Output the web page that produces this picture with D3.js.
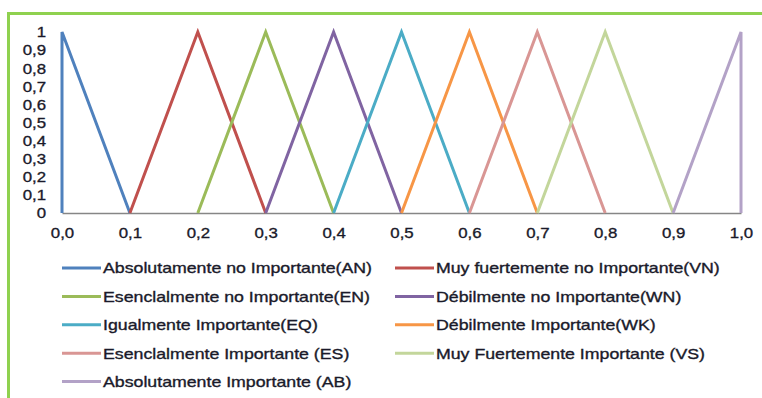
<!DOCTYPE html>
<html><head><meta charset="utf-8">
<script src="https://cdn.jsdelivr.net/npm/d3@7"></script>
<style>
html,body{margin:0;padding:0;background:#fff;}
svg{display:block;}
text{font-family:"Liberation Sans",Arial,sans-serif;fill:#1a1a2a;stroke:#1a1a2a;stroke-width:0.35px;}
</style></head>
<body><svg id="c" width="762" height="398"></svg>
<script>
const xTickValues = [0,0.1,0.2,0.3,0.4,0.5,0.6,0.7,0.8,0.9,1.0];
const xTickLabels = ["0,0","0,1","0,2","0,3","0,4","0,5","0,6","0,7","0,8","0,9","1,0"];
const yTickValues = [0,0.1,0.2,0.3,0.4,0.5,0.6,0.7,0.8,0.9,1];
const yTickLabels = ["0","0,1","0,2","0,3","0,4","0,5","0,6","0,7","0,8","0,9","1"];

const seriesNames = [
  "Absolutamente no Importante(AN)",
  "Muy fuertemente no Importante(VN)",
  "Esenclalmente no Importante(EN)",
  "Débilmente no Importante(WN)",
  "Igualmente Importante(EQ)",
  "Débilmente Importante(WK)",
  "Esenclalmente Importante (ES)",
  "Muy Fuertemente Importante (VS)",
  "Absolutamente Importante (AB)"
];
const seriesColors = ["#4F81BD","#C0504D","#9BBB59","#8064A2","#4BACC6","#F79646","#D99694","#C3D69B","#B3A2C7"];
const seriesX = [
  [0,0,0.1],
  [0.1,0.2,0.3],
  [0.2,0.3,0.4],
  [0.3,0.4,0.5],
  [0.4,0.5,0.6],
  [0.5,0.6,0.7],
  [0.6,0.7,0.8],
  [0.7,0.8,0.9],
  [0.9,1.0,1.0]
];
const seriesY = [
  [0,1,0],
  [0,1,0],
  [0,1,0],
  [0,1,0],
  [0,1,0],
  [0,1,0],
  [0,1,0],
  [0,1,0],
  [0,1,0]
];

const svg = d3.select("#c");
svg.append("rect").attr("x",8.5).attr("y",13.5).attr("width",800).attr("height",420)
  .attr("fill","#fff").attr("stroke","#8FD14F").attr("stroke-width",3);

const x = d3.scaleLinear().domain([0,1]).range([62,741]);
const y = d3.scaleLinear().domain([0,1]).range([213,32]);

function stretch(sel, k){
  sel.each(function(){
    const w = this.getComputedTextLength();
    d3.select(this).attr("textLength", w*k).attr("lengthAdjust","spacingAndGlyphs");
  });
}

const xAxis = d3.axisBottom(x).tickValues(xTickValues).tickSize(0).tickPadding(14)
  .tickFormat((d,i)=>xTickLabels[i]);
const gx = svg.append("g").attr("transform",`translate(0,${y(0)})`).call(xAxis);
gx.select(".domain").attr("stroke","#868686").attr("stroke-width",1.5);
gx.attr("font-family",null).attr("font-size",null);
gx.selectAll("text").attr("font-size","15px").attr("fill",null);
stretch(gx.selectAll("text"), 1.12);

const yAxis = d3.axisLeft(y).tickValues(yTickValues).tickSize(0).tickPadding(16)
  .tickFormat((d,i)=>yTickLabels[i]);
const gy = svg.append("g").attr("transform",`translate(${x(0)},0)`).call(yAxis);
gy.select(".domain").remove();
gy.attr("font-family",null).attr("font-size",null);
gy.selectAll("text").attr("font-size","15px").attr("fill",null);
stretch(gy.selectAll("text"), 1.12);

const line = d3.line().x(d=>x(d[0])).y(d=>y(d[1]));
seriesNames.forEach((n,i)=>{
  const pts = seriesX[i].map((v,j)=>[v,seriesY[i][j]]);
  svg.append("path").attr("d",line(pts)).attr("fill","none")
    .attr("stroke",seriesColors[i]).attr("stroke-width",3).attr("stroke-linejoin","miter");
});

const legX = [62,395];
const legY0 = 268, legDy = 28.4;
const legTexts = [];
seriesNames.forEach((n,i)=>{
  const col = i%2, row = Math.floor(i/2);
  const lx = legX[col], ly = legY0 + row*legDy;
  svg.append("line").attr("x1",lx).attr("x2",lx+39).attr("y1",ly).attr("y2",ly)
    .attr("stroke",seriesColors[i]).attr("stroke-width",3);
  svg.append("text").attr("class","leg").attr("x",lx+41).attr("y",ly).attr("dy","0.36em")
    .attr("font-size","15px").text(n);
});
const legSel = svg.selectAll("text.leg");
const w0 = legSel.node().getComputedTextLength();
stretch(legSel, 269/w0);
</script></body></html>
